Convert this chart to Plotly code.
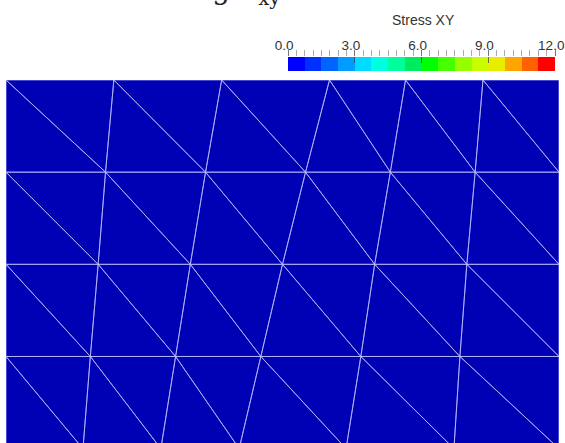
import numpy as np
import plotly.graph_objects as go

# ---- mesh data -------------------------------------------------------------
# node rows from top (y = 8) to bottom (y = 0); x positions of each node in a row
row_y = [8.0, 6.0, 4.0, 2.0, 0.0]
row_x_0 = [0.0, 2.34, 4.68, 7.02, 8.67, 10.35, 12.0]
row_x_1 = [0.0, 2.16, 4.33, 6.50, 8.34, 10.18, 12.0]
row_x_2 = [0.0, 2.00, 4.00, 6.00, 8.00, 10.00, 12.0]
row_x_3 = [0.0, 1.83, 3.68, 5.53, 7.70, 9.85, 12.0]
row_x_4 = [0.0, 1.67, 3.36, 5.06, 7.38, 9.72, 12.0]
row_x = [row_x_0, row_x_1, row_x_2, row_x_3, row_x_4]

# shear stress per triangle (two triangles per quad cell, 6 x 4 cells)
n_cols, n_rows = 6, 4
stress_xy = [0.0] * (2 * n_cols * n_rows)

# ---- colour scale -----------------------------------------------------------
cmin, cmax = 0.0, 12.0
n_bins = 16
bin_colors = [
    "#0000FF", "#0030FF", "#0064FF", "#009CFF",
    "#00DCFF", "#00FFE0", "#00FF9A", "#00EC60",
    "#00FF00", "#46FF00", "#96FF00", "#C8FF00",
    "#E8EE00", "#FFA500", "#FF6000", "#FF0000",
]
major_ticks = [0.0, 3.0, 6.0, 9.0, 12.0]
bar_title = "Stress XY"
plot_title = "Shear loading σ<sub>xy</sub>"
shade = 0.71  # lighting factor applied to the surface colour

def bin_index(v):
    k = int((v - cmin) / (cmax - cmin) * n_bins)
    return min(max(k, 0), n_bins - 1)

def shaded(hexcol, f):
    r, g, b = (int(hexcol[i:i + 2], 16) for i in (1, 3, 5))
    return f"rgb({int(r * f)},{int(g * f)},{int(b * f)})"

# ---- build triangles -------------------------------------------------------
def node(r, c):
    return row_x[r][c], row_y[r]

triangles = []
for r in range(n_rows):
    for c in range(n_cols):
        a, b, d, e = node(r, c), node(r, c + 1), node(r + 1, c + 1), node(r + 1, c)
        triangles.append((a, b, d))
        triangles.append((a, d, e))

fig = go.Figure()

groups = {}
for tri, val in zip(triangles, stress_xy):
    groups.setdefault(bin_index(val), []).append(tri)

for k, tris in groups.items():
    xs, ys = [], []
    for tri in tris:
        for p in tri + (tri[0],):
            xs.append(p[0]); ys.append(p[1])
        xs.append(None); ys.append(None)
    fig.add_trace(go.Scatter(
        x=xs, y=ys, mode="lines", fill="toself",
        fillcolor=shaded(bin_colors[k], shade),
        line=dict(width=0, color=shaded(bin_colors[k], shade)),
        hoverinfo="skip", showlegend=False,
    ))

# mesh edges
ex, ey = [], []
for tri in triangles:
    for p in tri + (tri[0],):
        ex.append(p[0]); ey.append(p[1])
    ex.append(None); ey.append(None)
fig.add_trace(go.Scatter(
    x=ex, y=ey, mode="lines",
    line=dict(width=1, color="rgba(190,190,255,0.75)"),
    hoverinfo="skip", showlegend=False,
))

# ---- colour bar drawn as a heatmap strip -------------------------------------
edges = np.linspace(cmin, cmax, n_bins + 1)
mids = 0.5 * (edges[:-1] + edges[1:])
cscale = []
for i, col in enumerate(bin_colors):
    cscale.append([i / n_bins, col])
    cscale.append([(i + 1) / n_bins, col])
fig.add_trace(go.Heatmap(
    x=list(edges), y=[0, 1], z=[list(mids)],
    colorscale=cscale, zmin=cmin, zmax=cmax, showscale=False,
    xaxis="x2", yaxis="y2", hoverinfo="skip",
))

W, H = 565, 443
px_x = lambda p: p / W
px_y = lambda p: 1 - p / H
label_font = dict(family="Liberation Sans, Arial", size=13.5, color="#333333")

fig.update_layout(
    width=W, height=H,
    margin=dict(l=0, r=0, t=0, b=0, pad=0, autoexpand=False),
    paper_bgcolor="white", plot_bgcolor="white",
    xaxis=dict(domain=[px_x(6), px_x(559)], range=[0, 12],
               visible=False, fixedrange=True),
    yaxis=dict(domain=[0, px_y(80)], range=[8 - 363 / 46.08, 8],
               visible=False, fixedrange=True),
    xaxis2=dict(domain=[px_x(288), px_x(555)], range=[cmin, cmax],
                anchor="y2", side="top", showgrid=False, zeroline=False,
                tickvals=major_ticks,
                ticktext=[f"{t:.1f}\u00a0\u00a0" for t in major_ticks],
                ticks="outside", ticklen=6, tickcolor="#777777", tickwidth=1,
                minor=dict(dtick=0.375, ticks="outside", ticklen=6,
                           tickcolor="#aaaaaa", tickwidth=1, showgrid=False),
                tickfont=label_font, ticklabeloverflow="allow",
                ticklabelstandoff=-5,
                automargin=False, showline=False, fixedrange=True),
    # major tick marks continuing down into the bar
    xaxis3=dict(domain=[px_x(288), px_x(555)], range=[cmin, cmax],
                anchor="y2", overlaying="x2", side="top",
                showgrid=False, zeroline=False, showticklabels=False,
                tickvals=major_ticks, ticks="inside", ticklen=6,
                tickcolor="rgba(60,60,60,0.7)", tickwidth=1,
                automargin=False, showline=False, fixedrange=True),
    yaxis2=dict(domain=[px_y(71), px_y(57)], range=[0, 1],
                anchor="x2", visible=False, fixedrange=True),
    annotations=[
        dict(text=bar_title, xref="paper", yref="paper",
             x=px_x(423), y=px_y(20), xanchor="center", yanchor="middle",
             showarrow=False,
             font=dict(family="Liberation Sans, Arial", size=14, color="#333333")),
        dict(text=plot_title, xref="paper", yref="paper",
             x=px_x(283), y=px_y(12), xanchor="right", yanchor="bottom",
             showarrow=False,
             font=dict(family="DejaVu Serif", size=28, color="#222222")),
    ],
)

# dummy trace so the overlay axis is drawn
fig.add_trace(go.Scatter(x=[None], y=[None], xaxis="x3", yaxis="y2",
                         showlegend=False, hoverinfo="skip"))

fig.write_html("out.html")
